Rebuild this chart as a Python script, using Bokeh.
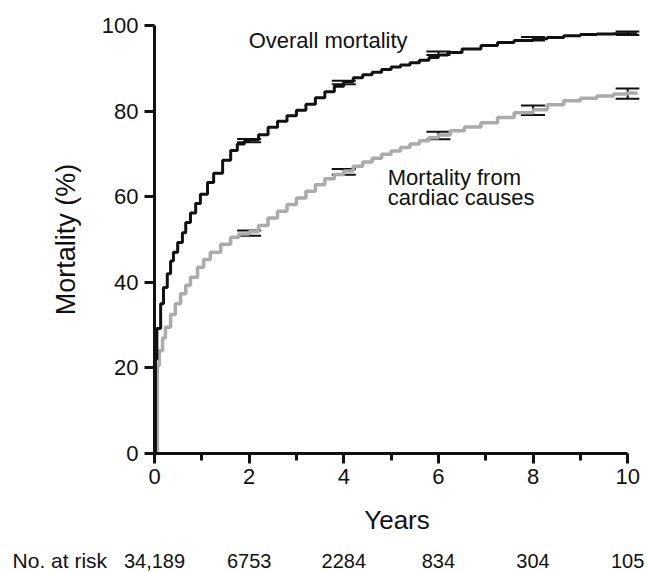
from bokeh.plotting import figure
from bokeh.layouts import column
from bokeh.models import ColumnDataSource, Whisker, TeeHead, Label, FixedTicker, Range1d
from bokeh.core.properties import value
from bokeh.embed import file_html
from bokeh.resources import INLINE

# ---- data ----
overall_t = [0, 0.02, 0.05, 0.13, 0.19, 0.27, 0.34, 0.40, 0.49, 0.59, 0.66, 0.76, 0.87, 0.97,
             1.12, 1.25, 1.44, 1.61, 1.75, 1.9, 2.0, 2.2, 2.4, 2.6, 2.8, 3.0, 3.2, 3.4, 3.6,
             3.8, 4.0, 4.2, 4.4, 4.6, 4.8, 5.0, 5.2, 5.4, 5.6, 5.8, 6.0, 6.2, 6.5, 6.9,
             7.25, 7.6, 8.0, 8.3, 8.65, 9.0, 9.35, 9.7, 10.2]
overall_v = [0, 22, 29.2, 35, 38.8, 42, 45, 47, 49.3, 51.6, 54, 56.2, 58.4, 60.6,
             63.3, 65.5, 68.5, 70.8, 72.3, 73.0, 73.3, 74.5, 76.2, 77.6, 78.9, 80.2, 81.6, 83.1, 84.5,
             85.8, 86.9, 87.8, 88.5, 89.1, 89.7, 90.3, 90.8, 91.3, 91.9, 92.5, 93.1, 93.7, 94.5, 95.3,
             96.0, 96.5, 96.9, 97.2, 97.6, 97.9, 98.0, 98.1, 98.1]

cardiac_t = [0, 0.06, 0.1, 0.17, 0.23, 0.34, 0.44, 0.55, 0.66, 0.76, 0.91, 1.04, 1.18, 1.4,
             1.61, 1.78, 2.0, 2.2, 2.4, 2.6, 2.8, 3.0, 3.2, 3.4, 3.6, 3.8, 4.0, 4.2, 4.4,
             4.6, 4.8, 5.0, 5.2, 5.4, 5.6, 5.8, 6.0, 6.25, 6.55, 6.9, 7.25, 7.6, 8.0, 8.3,
             8.65, 9.0, 9.35, 9.7, 10.0, 10.2]
cardiac_v = [0, 20.5, 24, 27, 29.5, 32.5, 35, 37.3, 39.3, 41.2, 43.5, 45.3, 47, 48.9,
             50.5, 51.3, 51.8, 53.3, 55.0, 56.6, 58.2, 59.7, 61.3, 62.8, 64.2, 65.2, 66.0, 67.1, 68.1,
             69.0, 69.9, 70.7, 71.5, 72.3, 73.1, 73.8, 74.4, 75.4, 76.3, 77.3, 78.5, 79.6, 80.3, 81.5,
             82.4, 83.0, 83.5, 84.0, 84.2, 84.3]

err_years = [2, 4, 6, 8, 10]
overall_mid = [73.1, 86.7, 93.5, 96.9, 98.2]
overall_err = [0.4, 0.4, 0.4, 0.4, 0.4]
cardiac_mid = [51.5, 65.8, 74.3, 80.2, 84.1]
cardiac_err = [0.6, 0.7, 0.9, 1.1, 1.2]

x_ticks = [0, 2, 4, 6, 8, 10]
x_minor = [1, 3, 5, 7, 9]
y_ticks = [0, 20, 40, 60, 80, 100]

risk_years = [0, 2, 4, 6, 8, 10]
risk_counts = ["34,189", "6753", "2284", "834", "304", "105"]
risk_title = "No. at risk"

FONT = "Liberation Sans"
X_END = 10.25
LEFT, RIGHT = 154, 8
W = 647
PPY = (W - LEFT - RIGHT) / X_END   # pixels per year

p = figure(width=W, height=545, output_backend="svg", toolbar_location=None,
           x_range=Range1d(0, X_END), y_range=Range1d(0, 100),
           min_border_left=LEFT, min_border_right=RIGHT, min_border_top=25, min_border_bottom=92)
p.outline_line_color = None
p.xgrid.visible = False
p.ygrid.visible = False
p.background_fill_color = "white"
p.border_fill_color = "white"

p.step(cardiac_t, cardiac_v, mode="after", line_color="#ababab", line_width=3.5)
p.step(overall_t, overall_v, mode="after", line_color="#111111", line_width=3)

for mids, errs in ((overall_mid, overall_err), (cardiac_mid, cardiac_err)):
    src = ColumnDataSource(dict(x=err_years,
                                upper=[m + e for m, e in zip(mids, errs)],
                                lower=[m - e for m, e in zip(mids, errs)]))
    w = Whisker(base="x", upper="upper", lower="lower", source=src, dimension="height",
                line_color="#111111", line_width=2,
                upper_head=TeeHead(size=24, line_width=2, line_color="#111111"),
                lower_head=TeeHead(size=24, line_width=2, line_color="#111111"))
    p.add_layout(w)

# axes
xa = p.xaxis[0]
xa.ticker = FixedTicker(ticks=x_ticks, minor_ticks=x_minor)
xa.bounds = (0, 10)
xa.axis_label = "Years"
ya = p.yaxis[0]
ya.ticker = FixedTicker(ticks=y_ticks, minor_ticks=[])
ya.bounds = (0, 100)
ya.axis_label = "Mortality (%)"
for ax in (xa, ya):
    ax.axis_line_width = 3
    ax.axis_line_color = "#111111"
    ax.major_tick_line_width = 3
    ax.major_tick_line_color = "#111111"
    ax.minor_tick_line_width = 3
    ax.minor_tick_line_color = "#111111"
    ax.major_tick_in = 0
    ax.major_tick_out = 10
    ax.minor_tick_in = 0
    ax.minor_tick_out = 7
    ax.major_label_text_font = FONT
    ax.major_label_text_font_size = "22px"
    ax.major_label_text_color = "#111111"
    ax.axis_label_text_font = FONT
    ax.axis_label_text_font_style = "normal"
    ax.axis_label_text_color = "#111111"
xa.axis_label_text_font_size = "26px"
ya.axis_label_text_font_size = "27px"
xa.major_label_standoff = 5
xa.axis_label_standoff = 18
ya.major_label_standoff = 6
ya.axis_label_standoff = 18

def lab(x, y, text):
    p.add_layout(Label(x=x, y=y, text=text, text_font=FONT, text_font_size="22px",
                       text_color="#111111", text_align="left", text_baseline="middle"))

lab(1.99, 96.5, "Overall mortality")
lab(4.93, 64.5, "Mortality from")
lab(4.93, 59.8, "cardiac causes")

# "No. at risk" row: a strip sharing the same years-to-pixels scale
r = figure(width=W, height=27, output_backend="svg", toolbar_location=None,
           x_range=Range1d(-LEFT / PPY, (W - LEFT) / PPY), y_range=Range1d(0, 1),
           min_border=0, x_axis_type=None, y_axis_type=None)
if hasattr(r, "frame_align"):
    r.frame_align = False
    p.frame_align = False
r.outline_line_color = None
r.xgrid.visible = False
r.ygrid.visible = False
ROW_Y = 0.44
r.text(x=risk_years, y=[ROW_Y] * len(risk_years), text=risk_counts,
       text_align="center", text_baseline="middle", text_color="#111111",
       text_font=value(FONT), text_font_size=value("20px"))
r.text(x=[-3.0], y=[ROW_Y], text=[risk_title],
       text_align="left", text_baseline="middle", text_color="#111111",
       text_font=value(FONT), text_font_size=value("21px"))

layout = column(p, r, spacing=0)
open("out.html", "w").write(file_html(layout, INLINE))
